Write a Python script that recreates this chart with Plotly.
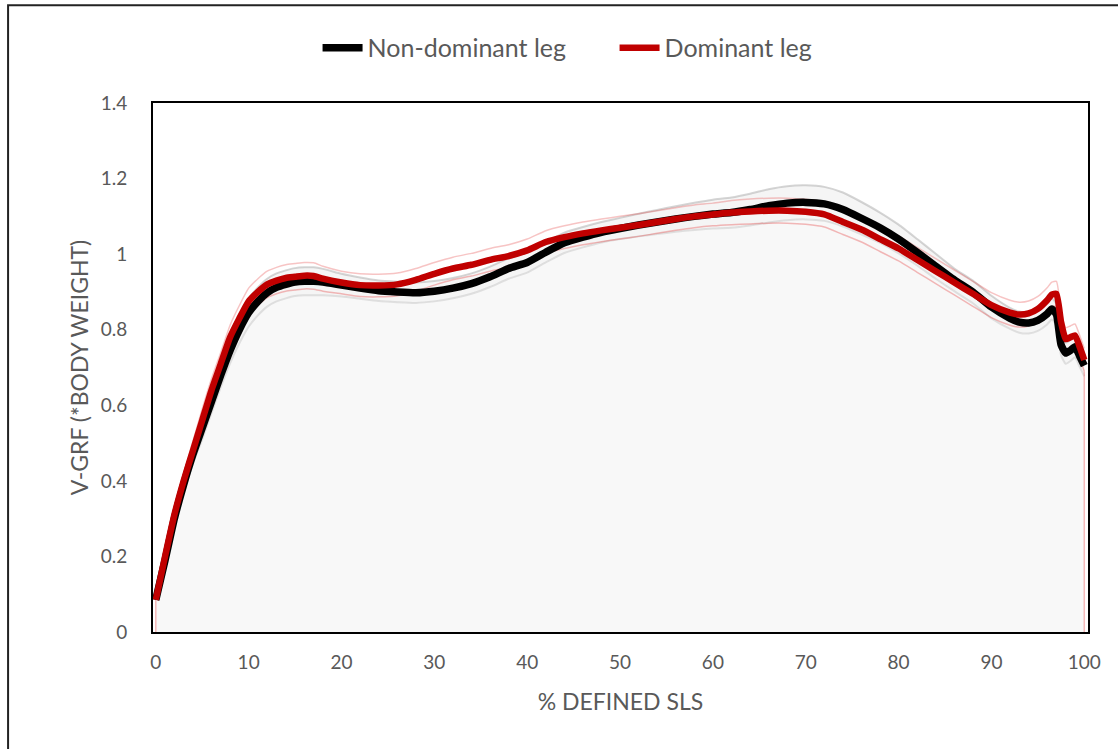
import plotly.graph_objects as go

# % of defined single-leg squat
pct = [0, 1, 2, 3, 4, 5, 6, 7, 8, 9, 10, 11, 12, 13, 14, 15, 16, 17, 18, 20, 22, 24, 26, 28, 30,
       32, 34, 36, 38, 40, 42, 44, 46, 48, 50, 52, 54, 56, 58, 60, 62, 64, 66, 68, 70, 72, 74, 76,
       78, 80, 82, 84, 86, 88, 90, 92, 93, 94, 95, 96, 96.5, 97, 97.5, 98, 98.5, 99, 99.5, 100]

# Dominant leg mean (red)
dominant = [0.085, 0.20, 0.31, 0.40, 0.48, 0.56, 0.64, 0.71, 0.78, 0.83, 0.875, 0.90, 0.92, 0.93,
            0.937, 0.94, 0.943, 0.942, 0.935, 0.925, 0.918, 0.917, 0.92, 0.932, 0.948, 0.962, 0.972,
            0.985, 0.995, 1.01, 1.032, 1.045, 1.055, 1.063, 1.07, 1.077, 1.085, 1.093, 1.10, 1.105,
            1.11, 1.113, 1.115, 1.115, 1.112, 1.105, 1.085, 1.065, 1.04, 1.015, 0.985, 0.955, 0.925,
            0.895, 0.865, 0.845, 0.84, 0.843, 0.855, 0.878, 0.893, 0.895, 0.82, 0.775, 0.78, 0.785,
            0.755, 0.72]

# Non-dominant leg mean (black)
non_dominant = [0.085, 0.19, 0.30, 0.39, 0.47, 0.54, 0.61, 0.68, 0.745, 0.80, 0.845, 0.875, 0.898,
                0.912, 0.92, 0.926, 0.928, 0.928, 0.926, 0.918, 0.91, 0.903, 0.90, 0.898, 0.902,
                0.91, 0.922, 0.94, 0.962, 0.978, 1.005, 1.03, 1.045, 1.058, 1.068, 1.077, 1.085,
                1.093, 1.10, 1.106, 1.11, 1.118, 1.128, 1.135, 1.137, 1.133, 1.118, 1.095, 1.07,
                1.04, 1.005, 0.968, 0.932, 0.90, 0.86, 0.83, 0.82, 0.818, 0.825, 0.842, 0.855, 0.84,
                0.76, 0.738, 0.745, 0.755, 0.73, 0.705]

# Standard deviations
dominant_sd = [0.0, 0.01, 0.015, 0.02, 0.025, 0.03, 0.03, 0.03, 0.032, 0.034, 0.035, 0.035, 0.035,
               0.035, 0.035, 0.035, 0.035, 0.035, 0.033, 0.03, 0.03, 0.03, 0.03, 0.03, 0.03, 0.03,
               0.03, 0.03, 0.03, 0.03, 0.03, 0.03, 0.03, 0.03, 0.03, 0.03, 0.03, 0.03, 0.03, 0.03,
               0.032, 0.033, 0.033, 0.033, 0.033, 0.033, 0.033, 0.033, 0.033, 0.033, 0.033, 0.033,
               0.033, 0.033, 0.033, 0.033, 0.033, 0.033, 0.033, 0.033, 0.033, 0.033, 0.03, 0.03,
               0.03, 0.03, 0.03, 0.03]

non_dominant_sd = [0.0, 0.01, 0.015, 0.02, 0.025, 0.03, 0.03, 0.032, 0.034, 0.036, 0.037, 0.037,
                   0.037, 0.037, 0.037, 0.037, 0.037, 0.037, 0.035, 0.03, 0.028, 0.027, 0.027,
                   0.027, 0.027, 0.027, 0.027, 0.027, 0.027, 0.027, 0.027, 0.027, 0.027, 0.027,
                   0.028, 0.03, 0.032, 0.034, 0.036, 0.038, 0.04, 0.042, 0.044, 0.045, 0.045, 0.045,
                   0.045, 0.043, 0.04, 0.038, 0.035, 0.033, 0.03, 0.03, 0.03, 0.028, 0.028, 0.028,
                   0.028, 0.028, 0.028, 0.028, 0.028, 0.028, 0.028, 0.028, 0.028, 0.028]

nd_up = [m + s for m, s in zip(non_dominant, non_dominant_sd)]
nd_lo = [m - s for m, s in zip(non_dominant, non_dominant_sd)]
d_up = [m + s for m, s in zip(dominant, dominant_sd)]
d_lo = [m - s for m, s in zip(dominant, dominant_sd)]

TXT = "#595959"
FONT = "Lato"
SPL = dict(shape="spline", smoothing=0.5)
PINK = "rgba(230,60,60,0.35)"

fig = go.Figure()

# light background area under the bands
fig.add_trace(go.Scatter(x=pct, y=nd_lo, mode="lines", line=dict(width=0, **SPL),
                         fill="tozeroy", fillcolor="#f8f8f8", showlegend=False, hoverinfo="skip"))
# SD band of non-dominant leg
fig.add_trace(go.Scatter(x=pct, y=nd_up, mode="lines",
                         line=dict(width=2, color="rgba(150,150,150,0.4)", **SPL),
                         fill="tonexty", fillcolor="rgba(225,225,225,0.35)", showlegend=False, hoverinfo="skip"))
fig.add_trace(go.Scatter(x=pct, y=nd_lo, mode="lines",
                         line=dict(width=2, color="rgba(150,150,150,0.25)", **SPL),
                         showlegend=False, hoverinfo="skip"))
# SD lines of dominant leg
fig.add_trace(go.Scatter(x=pct, y=d_lo, mode="lines", line=dict(width=1.5, color=PINK, **SPL),
                         showlegend=False, hoverinfo="skip"))
fig.add_trace(go.Scatter(x=pct, y=d_up, mode="lines", line=dict(width=1.5, color="rgba(230,60,60,0.3)", **SPL),
                         showlegend=False, hoverinfo="skip"))
# vertical edges of the dominant-leg band area down to zero
fig.add_trace(go.Scatter(x=[pct[0], pct[0]], y=[0, d_lo[0]], mode="lines", line=dict(width=1.5, color=PINK),
                         showlegend=False, hoverinfo="skip"))
fig.add_trace(go.Scatter(x=[pct[-1], pct[-1]], y=[0, d_lo[-1]], mode="lines", line=dict(width=1.5, color=PINK),
                         showlegend=False, hoverinfo="skip"))

# means
fig.add_trace(go.Scatter(x=pct, y=non_dominant, mode="lines", name="Non-dominant leg",
                         line=dict(width=7.5, color="#000000", **SPL)))
fig.add_trace(go.Scatter(x=pct, y=dominant, mode="lines", name="Dominant leg",
                         line=dict(width=6.5, color="#c00000", **SPL)))

fig.update_layout(
    width=1118, height=749,
    margin=dict(l=153, r=30, t=103, b=117),
    paper_bgcolor="white", plot_bgcolor="white",
    font=dict(family=FONT, color=TXT, size=19),
    legend=dict(orientation="h", x=0.176, xanchor="left", y=1.104, yanchor="middle",
                font=dict(size=25, color=TXT), itemwidth=40, traceorder="normal",
                entrywidth=242, entrywidthmode="pixels",
                bgcolor="rgba(0,0,0,0)"),
    showlegend=True,
)
fig.update_xaxes(range=[-0.3, 100.4], tickmode="array", tickvals=list(range(0, 101, 10)),
                 showgrid=False, zeroline=False, showline=True, linecolor="#000000", linewidth=2,
                 mirror=True, ticks="", ticklabelstandoff=12,
                 tickfont=dict(size=19, color=TXT),
                 title=dict(text="% DEFINED SLS", font=dict(size=23, color=TXT), standoff=22))
fig.update_yaxes(range=[0, 1.4], tickmode="array", tickvals=[0, 0.2, 0.4, 0.6, 0.8, 1, 1.2, 1.4],
                 ticktext=["0", "0.2", "0.4", "0.6", "0.8", "1", "1.2", "1.4"],
                 showgrid=False, zeroline=False, showline=True, linecolor="#000000", linewidth=2,
                 mirror=True, ticks="", ticklabelstandoff=20,
                 tickfont=dict(size=19, color=TXT),
                 title=dict(text="V-GRF (*BODY WEIGHT)", font=dict(size=23, color=TXT), standoff=6))

# outer frame around the whole chart
fig.add_shape(type="rect", xref="paper", yref="paper", x0=-0.155, y0=-0.4, x1=1.2, y1=1.185,
              line=dict(color="#222222", width=2), layer="above")

fig.write_html("out.html")
